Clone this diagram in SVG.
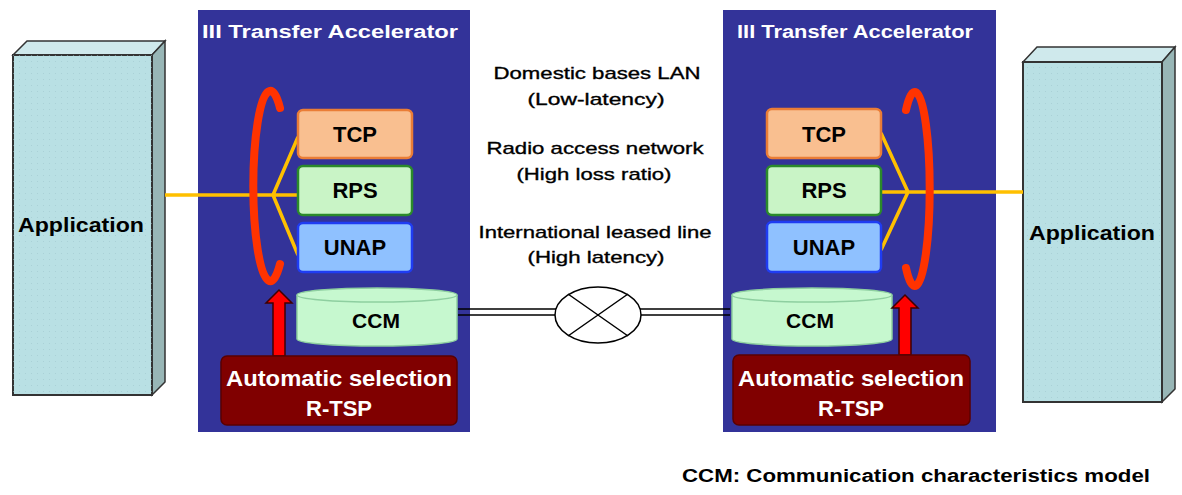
<svg xmlns="http://www.w3.org/2000/svg" width="1182" height="495" viewBox="0 0 1182 495">
<style>
.lbl{font-family:"Liberation Sans",Arial,sans-serif;font-weight:bold;text-anchor:middle}
.mid{font-family:"Liberation Sans",Arial,sans-serif;font-size:17px;text-anchor:middle;fill:#000;stroke:#000;stroke-width:0.35}
.panel{fill:#333399}
.title{font-size:18px;fill:#fff}
.front{fill:#b9e0e4;stroke:#333;stroke-width:2}
.top{fill:#cfe9ec;stroke:#333;stroke-width:1.5}
.side{fill:#98b6b6;stroke:#333;stroke-width:1.5}
.tcp{fill:#f9bf90;stroke:#ea7d36;stroke-width:2.5}
.rps{fill:#c9f4c6;stroke:#2b8a2b;stroke-width:2.5}
.unap{fill:#8fc1ff;stroke:#1f3cf2;stroke-width:2.5}
.ccm{fill:#c6f8cf;stroke:#8ecfa0;stroke-width:1.5}
.rtsp{fill:#800000;stroke:#5a0000;stroke-width:1.5}
.ring{fill:none;stroke:#ff3300;stroke-width:8;stroke-linecap:round}
.wire{fill:none;stroke:#ffc000;stroke-width:3.5}
.link{fill:none;stroke:#000;stroke-width:1.5}
.arrow{fill:#ff0000;stroke:#400000;stroke-width:1.5}
</style>
<defs>
<pattern id="dots" width="6" height="6" patternUnits="userSpaceOnUse">
<circle cx="1.5" cy="1.5" r="0.6" fill="#9cc4cc"/>
</pattern>
</defs>
<rect x="0" y="0" width="1182" height="495" fill="#ffffff"/>

<g id="panel-left">
<rect class="panel" x="198" y="10" width="272" height="422"/>
<text class="lbl title" x="330" y="38" textLength="256" lengthAdjust="spacingAndGlyphs">III Transfer Accelerator</text>
</g>
<g id="panel-right">
<rect class="panel" x="723" y="10" width="273" height="422"/>
<text class="lbl title" x="855" y="38" textLength="236" lengthAdjust="spacingAndGlyphs">III Transfer Accelerator</text>
</g>

<g id="app-left">
<polygon class="top" points="13,55 27,41 165,41 152,55"/>
<polygon class="side" points="152,55 165,41 165,382 152,395"/>
<rect class="front" x="13" y="55" width="139" height="340"/>
<rect x="13" y="55" width="139" height="340" fill="url(#dots)" opacity="0.6"/>
<text class="lbl" x="81" y="232" font-size="20" textLength="126" lengthAdjust="spacingAndGlyphs">Application</text>
</g>
<g id="app-right">
<polygon class="top" points="1023,62 1037,47 1175,47 1162,62"/>
<polygon class="side" points="1162,62 1175,47 1175,389 1162,402"/>
<rect class="front" x="1023" y="62" width="139" height="340"/>
<rect x="1023" y="62" width="139" height="340" fill="url(#dots)" opacity="0.6"/>
<text class="lbl" x="1092" y="240" font-size="20" textLength="126" lengthAdjust="spacingAndGlyphs">Application</text>
</g>

<g id="connectors">
<path class="wire" d="M165,195 H273 M273,195 L298,137 M273,195 H298 M273,195 L298,255"/>
<path class="wire" d="M1023,192 H908 M908,192 L881,133 M908,192 H881 M908,192 L881,250"/>
<path class="link" d="M458,309 H556 M458,315 H556 M640,309 H730 M640,315 H730"/>
</g>

<g id="tcp-left"><rect class="tcp" x="298" y="110" width="114" height="48" rx="5"/><text class="lbl" x="355" y="142" font-size="22">TCP</text></g>
<g id="rps-left"><rect class="rps" x="298" y="166" width="114" height="49" rx="5"/><text class="lbl" x="355" y="198" font-size="22">RPS</text></g>
<g id="unap-left"><rect class="unap" x="298" y="223" width="114" height="49" rx="5"/><text class="lbl" x="355" y="255" font-size="22">UNAP</text></g>

<g id="tcp-right"><rect class="tcp" x="767" y="109" width="114" height="49" rx="5"/><text class="lbl" x="824" y="142" font-size="22">TCP</text></g>
<g id="rps-right"><rect class="rps" x="767" y="166" width="114" height="49" rx="5"/><text class="lbl" x="824" y="198" font-size="22">RPS</text></g>
<g id="unap-right"><rect class="unap" x="767" y="222" width="114" height="50" rx="5"/><text class="lbl" x="824" y="255" font-size="22">UNAP</text></g>

<g id="ring-left"><path class="ring" d="M280,108 A17,95 0 1 0 280,264"/></g>
<g id="ring-right"><path class="ring" d="M906,110 A15,97 0 1 1 906,268"/></g>

<g id="ccm-left">
<path class="ccm" d="M297,295 V339 A80,7 0 0 0 457,339 V295"/>
<ellipse class="ccm" cx="377" cy="295" rx="80" ry="7"/>
<text class="lbl" x="376" y="328" font-size="21">CCM</text>
</g>
<g id="ccm-right">
<path class="ccm" d="M732,295 V339 A80,7 0 0 0 892,339 V295"/>
<ellipse class="ccm" cx="812" cy="295" rx="80" ry="7"/>
<text class="lbl" x="810" y="328" font-size="21">CCM</text>
</g>

<g id="arrow-left"><polygon class="arrow" points="273,356 273,303 266,303 279,290 292,303 285,303 285,356"/></g>
<g id="arrow-right"><polygon class="arrow" points="899,355 899,308 892,308 905,295 918,308 911,308 911,355"/></g>

<g id="rtsp-left">
<rect class="rtsp" x="221" y="356" width="236" height="69" rx="6"/>
<text class="lbl" x="339" y="386" font-size="22" fill="#fff" textLength="226" lengthAdjust="spacingAndGlyphs">Automatic selection</text>
<text class="lbl" x="339" y="416" font-size="22" fill="#fff">R-TSP</text>
</g>
<g id="rtsp-right">
<rect class="rtsp" x="733" y="355" width="237" height="70" rx="6"/>
<text class="lbl" x="851" y="386" font-size="22" fill="#fff" textLength="226" lengthAdjust="spacingAndGlyphs">Automatic selection</text>
<text class="lbl" x="851" y="416" font-size="22" fill="#fff">R-TSP</text>
</g>

<g id="network">
<ellipse cx="598" cy="315" rx="43" ry="28" fill="#fff" stroke="#000" stroke-width="1.5"/>
<path class="link" d="M568,294 L628,336 M628,294 L568,336"/>
</g>

<g id="network-labels">
<text class="mid" x="597" y="79" textLength="207" lengthAdjust="spacingAndGlyphs">Domestic bases LAN</text>
<text class="mid" x="596" y="105" textLength="137" lengthAdjust="spacingAndGlyphs">(Low-latency)</text>
<text class="mid" x="595" y="154" textLength="217" lengthAdjust="spacingAndGlyphs">Radio access network</text>
<text class="mid" x="594" y="180" textLength="155" lengthAdjust="spacingAndGlyphs">(High loss ratio)</text>
<text class="mid" x="595" y="238" textLength="233" lengthAdjust="spacingAndGlyphs">International leased line</text>
<text class="mid" x="596" y="263" textLength="137" lengthAdjust="spacingAndGlyphs">(High latency)</text>
</g>

<g id="footnote">
<text class="lbl" x="916" y="482" font-size="18" textLength="468" lengthAdjust="spacingAndGlyphs">CCM: Communication characteristics model</text>
</g>
</svg>
